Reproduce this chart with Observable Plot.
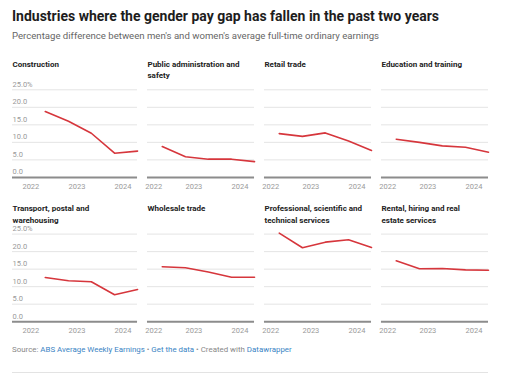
<!DOCTYPE html>
<html>
<head>
<meta charset="utf-8">
<script src="https://cdn.jsdelivr.net/npm/d3@7"></script>
<script src="https://cdn.jsdelivr.net/npm/@observablehq/plot@0.6"></script>
<style>
  html, body { margin: 0; padding: 0; background: #fff; }
  body { width: 509px; height: 373px; position: relative; overflow: hidden; font-family: Roboto, "Noto Sans", sans-serif; }
  .abs { position: absolute; white-space: nowrap; }
  #title { left: 12px; top: 9.2px; font-size: 14px; line-height: 14px; font-weight: 700; color: #1d1d1d; }
  #subtitle { left: 12px; top: 31.2px; font-size: 9.6px; line-height: 9.6px; color: #666; }
  #chart { left: 0; top: 46px; }
  #footer { left: 12px; top: 345.9px; font-size: 7.9px; line-height: 7.9px; color: #888; }
  #footer a { color: #3a84c4; text-decoration: none; }
  #rule { left: 12px; top: 371.5px; width: 476px; height: 1px; background: #e3e3e3; }
</style>
</head>
<body>
<div id="title" class="abs">Industries where the gender pay gap has fallen in the past two years</div>
<div id="subtitle" class="abs">Percentage difference between men's and women's average full-time ordinary earnings</div>
<div id="chart" class="abs"></div>
<div id="footer" class="abs">Source: <a>ABS Average Weekly Earnings</a> • <a>Get the data</a> • Created with <a>Datawrapper</a></div>
<div id="rule" class="abs"></div>
<script>
// ---- data ----
const industries = [
  "Construction",
  "Public administration and safety",
  "Retail trade",
  "Education and training",
  "Transport, postal and warehousing",
  "Wholesale trade",
  "Professional, scientific and technical services",
  "Rental, hiring and real estate services"
];
const titles = [
  "Construction",
  "Public administration and\nsafety",
  "Retail trade",
  "Education and training",
  "Transport, postal and\nwarehousing",
  "Wholesale trade",
  "Professional, scientific and\ntechnical services",
  "Rental, hiring and real\nestate services"
];
const periods = ["2022-05-15", "2022-11-15", "2023-05-15", "2023-11-15", "2024-05-15"];
const construction = [18.8, 16.0, 12.6, 6.9, 7.5];
const publicAdmin = [8.8, 5.9, 5.2, 5.2, 4.5];
const retail = [12.5, 11.7, 12.7, 10.4, 7.7];
const education = [10.9, 10.0, 9.0, 8.6, 7.2];
const transport = [12.6, 11.7, 11.4, 7.7, 9.2];
const wholesale = [15.7, 15.4, 14.2, 12.7, 12.7];
const professional = [25.3, 21.1, 22.7, 23.4, 21.2];
const rental = [17.4, 15.1, 15.2, 14.8, 14.7];
const series = [construction, publicAdmin, retail, education, transport, wholesale, professional, rental];
const yTicks = [0, 5, 10, 15, 20, 25];
const yTickLabels = ["0.0", "5.0", "10.0", "15.0", "20.0", "25.0%"];
const xTickYears = ["2022", "2023", "2024"];
const xDomain = ["2022-01-18", "2024-05-15"];

// ---- derived tables ----
const panels = industries.map((name, i) => ({name, title: titles[i], col: i % 4, row: Math.floor(i / 4)}));
const rows = panels.flatMap((p, i) => periods.map((d, j) => ({...p, date: new Date(d), value: series[i][j]})));
const grid = panels.flatMap(p => yTicks.filter(v => v > 0).map(v => ({...p, y: v})));
const base = panels.map(p => ({...p, y: 0}));
const yLabels = panels.filter(p => p.col === 0).flatMap(p => yTicks.map((v, k) => ({...p, y: v, label: yTickLabels[k]})));
const xLabels = panels.flatMap(p => xTickYears.map((yr, k) => ({...p, date: new Date(yr + "-01-01"), label: yr, first: k === 0})));

const red = "#d6363c";
const tickFill = "#9a9a9a";

const chart = Plot.plot({
  width: 509,
  height: 290,
  marginLeft: 30,
  marginRight: 21,
  marginTop: 43.3,
  marginBottom: 14.8,
  style: {fontFamily: "Roboto, 'Noto Sans', sans-serif", fontSize: "7.5px", background: "transparent", overflow: "visible"},
  fx: {axis: null, paddingInner: 0.085, paddingOuter: 0, round: false},
  fy: {axis: null, paddingInner: 0.393, paddingOuter: 0, round: false},
  x: {type: "utc", domain: xDomain.map(d => new Date(d)), axis: null},
  y: {domain: [0, 25], axis: null},
  marks: [
    Plot.ruleY(grid.filter(d => d.col > 0), {y: "y", fx: "col", fy: "row", stroke: "#e4e4e4", strokeWidth: 1}),
    Plot.ruleY(grid.filter(d => d.col === 0), {y: "y", fx: "col", fy: "row", stroke: "#e4e4e4", strokeWidth: 1, insetLeft: -18}),
    Plot.line(rows, {x: "date", y: "value", fx: "col", fy: "row", z: "name", stroke: red, strokeWidth: 1.6, strokeLinejoin: "round", strokeLinecap: "round"}),
    Plot.ruleY(base.filter(d => d.col > 0), {y: "y", fx: "col", fy: "row", stroke: "#8c8c8c", strokeWidth: 2}),
    Plot.ruleY(base.filter(d => d.col === 0), {y: "y", fx: "col", fy: "row", stroke: "#8c8c8c", strokeWidth: 2, insetLeft: -18}),
    Plot.text(yLabels, {y: "y", fx: "col", fy: "row", text: "label", frameAnchor: "left", dx: -18, dy: -3, textAnchor: "start", lineAnchor: "bottom", fill: tickFill, fontSize: 7.5}),
    Plot.text(xLabels.filter(d => d.col === 0 || !d.first), {x: "date", fx: "col", fy: "row", text: "label", frameAnchor: "bottom", dx: 2.5, dy: 6, lineAnchor: "top", fill: tickFill, fontSize: 7.5}),
    Plot.text(xLabels.filter(d => d.col > 0 && d.first), {x: "date", fx: "col", fy: "row", text: "label", frameAnchor: "bottom", dy: 6, textAnchor: "start", lineAnchor: "top", fill: tickFill, fontSize: 7.5}),
    Plot.text(panels.filter(p => p.col === 0), {fx: "col", fy: "row", text: "title", frameAnchor: "top-left", dx: -18, dy: -31.3, textAnchor: "start", lineAnchor: "top", lineHeight: 1.45, fontSize: 8, fontWeight: "bold", fill: "#222"}),
    Plot.text(panels.filter(p => p.col > 0), {fx: "col", fy: "row", text: "title", frameAnchor: "top-left", dy: -31.3, textAnchor: "start", lineAnchor: "top", lineHeight: 1.45, fontSize: 8, fontWeight: "bold", fill: "#222"})
  ]
});
document.getElementById("chart").appendChild(chart);
</script>
</body>
</html>
